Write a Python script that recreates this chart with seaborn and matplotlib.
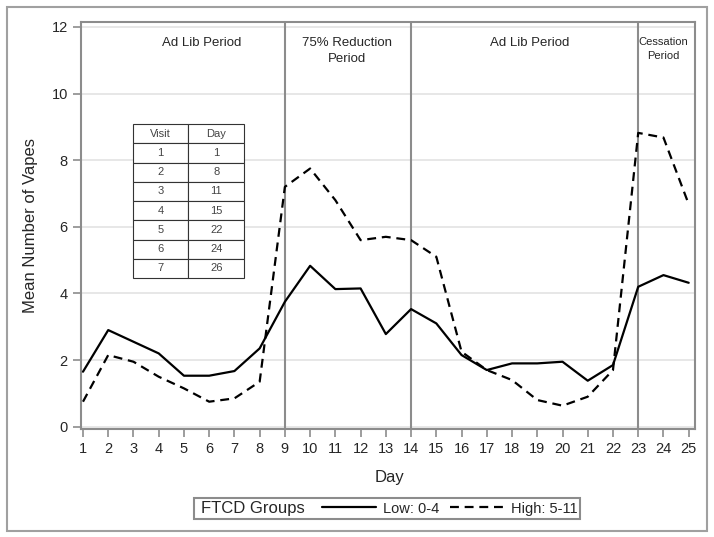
import seaborn as sns
import pandas as pd
import matplotlib.pyplot as plt
from matplotlib.lines import Line2D
from matplotlib.patches import Rectangle

# data
days = list(range(1, 26))
low = [1.65, 2.9, 2.55, 2.2, 1.53, 1.53, 1.67, 2.35, 3.75, 4.83, 4.13, 4.15, 2.78,
       3.53, 3.1, 2.15, 1.7, 1.9, 1.9, 1.95, 1.38, 1.85, 4.2, 4.55, 4.32]
high = [0.75, 2.15, 1.95, 1.5, 1.15, 0.75, 0.85, 1.35, 7.2, 7.75, 6.8, 5.6, 5.7,
        5.6, 5.1, 2.25, 1.7, 1.4, 0.8, 0.63, 0.9, 1.7, 8.82, 8.68, 6.68]
group_names = ["Low: 0-4", "High: 5-11"]
period_bounds = [9, 14, 23]
period_labels = ["Ad Lib Period", "75% Reduction\nPeriod", "Ad Lib Period", "Cessation\nPeriod"]
period_x = [5.7, 11.45, 18.7, 24.0]
visits = ["1", "2", "3", "4", "5", "6", "7"]
visit_days = ["1", "8", "11", "15", "22", "24", "26"]

df = pd.DataFrame({
    "Day": days * 2,
    "Vapes": low + high,
    "Group": [group_names[0]] * len(days) + [group_names[1]] * len(days),
})

sns.set_style("white")
plt.rcParams["font.family"] = ["Liberation Sans", "DejaVu Sans"]

fig = plt.figure(figsize=(7.14, 5.37), dpi=100)
ax = fig.add_axes([0.1134, 0.2011, 0.86, 0.758])

gray = "#8c8c8c"
for y in range(0, 13, 2):
    ax.axhline(y, color="#e3e3e3", lw=1.2, zorder=0)
for b in period_bounds:
    ax.axvline(b, color=gray, lw=1.5, zorder=1)

sns.lineplot(data=df, x="Day", y="Vapes", hue="Group", style="Group",
             palette=["black", "black"], dashes={group_names[0]: "", group_names[1]: (4, 2.6)},
             lw=1.6, legend=False, ax=ax, zorder=3)

ax.set_xlim(0.92, 25.25)
ax.set_ylim(-0.07, 12.15)
ax.set_xticks(days)
ax.set_yticks(range(0, 13, 2))
ax.tick_params(axis="both", labelsize=10.5, color=gray, length=6, width=1.2,
               direction="out", left=True, bottom=True)
for s in ax.spines.values():
    s.set_color(gray)
    s.set_linewidth(1.5)
ax.set_xlabel("Day", fontsize=12)
ax.set_ylabel("Mean Number of Vapes", fontsize=12)
ax.xaxis.set_label_coords(0.502, -0.1)
ax.yaxis.set_label_coords(-0.07, 0.5)

# period labels
for i, (lab, px) in enumerate(zip(period_labels, period_x)):
    fs = 8 if i == 3 else 9.5
    ax.text(px, 11.7, lab, ha="center", va="top", fontsize=fs, linespacing=1.45)

# visit / day table
tbl = ax.table(cellText=[[v, d] for v, d in zip(visits, visit_days)],
               colLabels=["Visit", "Day"], cellLoc="center",
               bbox=[0.084, 0.371, 0.182, 0.378])
tbl.auto_set_font_size(False)
tbl.set_fontsize(8)
for cell in tbl.get_celld().values():
    cell.set_edgecolor("#333333")
    cell.set_linewidth(0.8)
    cell.get_text().set_color("#444444")

# legend
fig.patches.append(Rectangle((0.2717, 0.0335), 0.5406, 0.039, transform=fig.transFigure,
                             fill=False, ec=gray, lw=1.5))
fig.text(0.281, 0.053, "FTCD Groups", ha="left", va="center", fontsize=12)
handles = [Line2D([], [], color="black", lw=1.6),
           Line2D([], [], color="black", lw=1.6, ls=(0, (4, 2.6)))]
fig.legend(handles, group_names, loc="center left", bbox_to_anchor=(0.451, 0.053),
           ncol=2, frameon=False, fontsize=10.5, handlelength=3.7, handletextpad=0.5,
           columnspacing=0.7, borderpad=0, borderaxespad=0)

# outer border
fig.patches.append(Rectangle((0.0098, 0.0112), 0.980, 0.976, transform=fig.transFigure,
                             fill=False, ec="#a0a0a0", lw=1.5))

fig.savefig("out.png", dpi=100)
